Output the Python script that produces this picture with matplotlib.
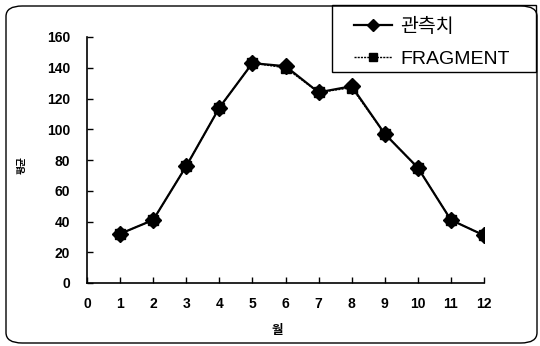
import matplotlib
matplotlib.use("Agg")
import matplotlib.pyplot as plt
from matplotlib.patches import FancyBboxPatch, Rectangle

months = [1, 2, 3, 4, 5, 6, 7, 8, 9, 10, 11, 12]
observed = [32, 41, 76, 114, 143, 141, 124, 128, 97, 75, 41, 31]
fragment = [32, 41, 76, 114, 143, 140, 124, 127, 97, 75, 41, 31]
x_ticks = list(range(0, 13))
y_ticks = [0, 20, 40, 60, 80, 100, 120, 140, 160]

plt.rcParams['font.family'] = ['Liberation Sans', 'Noto Sans CJK KR', 'DejaVu Sans']

W, H = 540, 346
fig = plt.figure(figsize=(W / 100, H / 100), dpi=100)
fig.patch.set_facecolor('white')
border = FancyBboxPatch((6 / W, 1 - 343 / H), 531 / W, 337 / H,
                        boxstyle="round,pad=0,rounding_size=0.03",
                        transform=fig.transFigure, fill=False, edgecolor='black',
                        linewidth=1.0)
fig.patches.append(border)

ax = fig.add_axes([87 / W, 1 - 283 / H, (484 - 87) / W, (283 - 37) / H])
l1, = ax.plot(months, observed, color='black', linewidth=1.6, marker='D', markersize=8.5,
              markerfacecolor='black', markeredgecolor='black', label='관측치')
l2, = ax.plot(months, fragment, color='black', linewidth=1.0, linestyle=(0, (1.5, 0.8)),
              marker='s', markersize=7.5,
              markerfacecolor='black', markeredgecolor='black', label='FRAGMENT')

ax.set_xlim(0, 12)
ax.set_ylim(0, 160)
ax.set_xticks(x_ticks)
ax.set_yticks(y_ticks)
ax.spines['top'].set_visible(False)
ax.spines['right'].set_visible(False)
ax.spines['left'].set_linewidth(1.2)
ax.spines['bottom'].set_linewidth(1.2)
ax.tick_params(direction='in', length=4, width=1, labelsize=10)
for t in ax.get_xticklabels() + ax.get_yticklabels():
    t.set_fontweight('bold')
ax.tick_params(axis='x', pad=10)
ax.tick_params(axis='y', pad=12)
ax.set_xlabel('월', fontsize=9, fontweight='bold')
ax.set_ylabel('평균', fontsize=7, fontweight='bold')
ax.xaxis.set_label_coords((277 - 87) / 397, (283 - 325) / 246)
ax.yaxis.set_label_coords((27 - 87) / 397, (283 - 165) / 246)

# legend frame
fig.patches.append(Rectangle((332 / W, 1 - 72 / H), (536 - 332) / W, (72 - 5) / H,
                             transform=fig.transFigure, fill=False, edgecolor='black',
                             linewidth=1.0))
leg = fig.legend(handles=[l1, l2], loc='upper left', bbox_to_anchor=(336 / W, 1 - 0 / H),
                 fontsize=14, frameon=False,
                 handlelength=2.0, borderpad=0.4, labelspacing=0.75, handletextpad=0.4,
                 markerscale=0.7)

fig.savefig('out.png', dpi=100, facecolor='white')
